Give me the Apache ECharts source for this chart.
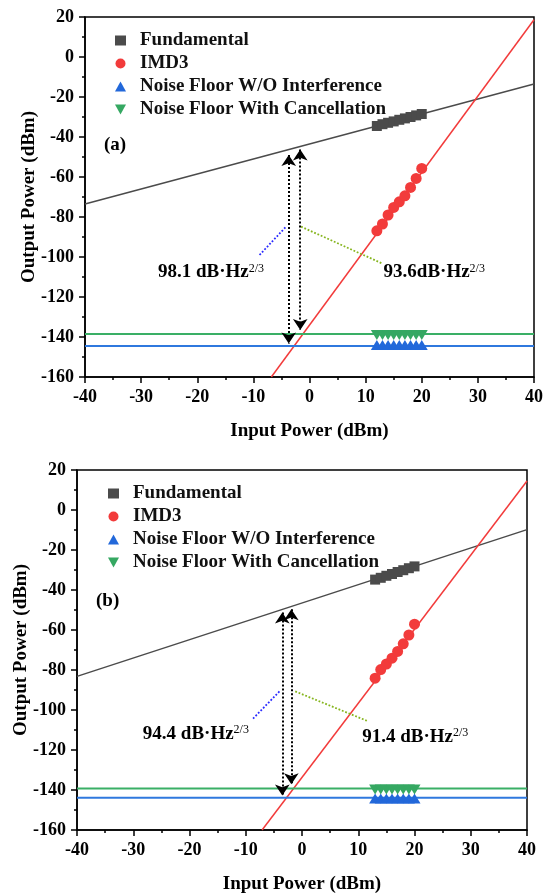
<!DOCTYPE html>
<html>
<head>
<meta charset="utf-8">
<title>Fundamental and IMD3 output power</title>
<script src="https://cdn.jsdelivr.net/npm/echarts@6/dist/echarts.min.js"></script>
<style>
  html, body { margin: 0; padding: 0; background: #fff; }
  #chart { width: 546px; height: 895px; }
</style>
</head>
<body>
<div id="chart"></div>
<script>
// axis ticks (both panels)
const xTicks = [-40, -30, -20, -10, 0, 10, 20, 30, 40];
const yTicks = [-160, -140, -120, -100, -80, -60, -40, -20, 0, 20];

// panel (a)
const fundXA = [12, 13, 14, 15, 16, 17, 18, 19, 20];
const fundYA = [-34.5, -33.6, -32.9, -32.2, -31.4, -30.7, -30.0, -29.2, -28.5];
const imdXA = [12, 13, 14, 15, 16, 17, 18, 19, 20];
const imdYA = [-86.9, -83.5, -79.0, -75.2, -72.4, -69.4, -65.2, -60.7, -55.7];
const noiseXA = [12, 13, 14, 15, 16, 17, 18, 19, 20];
const noiseYA = [-144.0, -144.0, -144.0, -144.0, -144.0, -144.0, -144.0, -144.0, -144.0];
const cancelYA = [-139.0, -139.0, -139.0, -139.0, -139.0, -139.0, -139.0, -139.0, -139.0];
const fundFitA = [[-40, -73.5], [40, -13.5]];
const imdFitA = [[-6.8, -160], [40, 18.6]];
const noiseLineA = [[-40, -144.5], [40, -144.5]];
const cancelLineA = [[-40, -138.5], [40, -138.5]];
const arrowXA = [-3.7, -1.65];
const arrowTopA = [-49.0, -46.2];
const arrowBotA = [-143.2, -136.5];
const gainTextA = ['98.1 dB·Hz', '93.6dB·Hz'];

// panel (b)
const fundXB = [13, 14, 15, 16, 17, 18, 19, 20];
const fundYB = [-34.8, -33.9, -32.9, -32.0, -31.0, -30.1, -29.1, -28.2];
const imdXB = [13, 14, 15, 16, 17, 18, 19, 20];
const imdYB = [-84.1, -79.8, -77.0, -74.1, -70.7, -66.9, -62.5, -57.1];
const noiseXB = [13, 14, 15, 16, 17, 18, 19, 20];
const noiseYB = [-144.2, -144.2, -144.2, -144.2, -144.2, -144.2, -144.2, -144.2];
const cancelYB = [-139.8, -139.8, -139.8, -139.8, -139.8, -139.8, -139.8, -139.8];
const fundFitB = [[-40, -83.2], [40, -9.8]];
const imdFitB = [[-7.1, -160], [40, 14.5]];
const noiseLineB = [[-40, -143.9], [40, -143.9]];
const cancelLineB = [[-40, -139.3], [40, -139.3]];
const arrowXB = [-3.5, -1.9];
const arrowTopB = [-51.3, -49.6];
const arrowBotB = [-142.8, -137.1];
const gainTextB = ['94.4 dB·Hz', '91.4 dB·Hz'];

const legendNames = ['Fundamental', 'IMD3', 'Noise Floor W/O Interference', 'Noise Floor With Cancellation'];

const FONT = "'Liberation Serif', 'Times New Roman', serif";
const downTri = 'path://M0,0L10,0L5,9Z';
const colors = { fund: '#4b4b4b', imd: '#f23b3b', noise: '#2268da', cancel: '#35a862' };

const zip = (xs, ys) => xs.map((x, i) => [x, ys[i]]);

// panel layout: grid box, annotation anchors (data coords), leader lines (data coords)
const panels = [
  {
    grid: { left: 85, top: 17, width: 450, height: 360 },
    tag: '(a)', tagPos: [104, 136],
    fundX: fundXA, fundY: fundYA, imdX: imdXA, imdY: imdYA,
    noiseX: noiseXA, noiseY: noiseYA, cancelY: cancelYA,
    fundFit: fundFitA, imdFit: imdFitA, noiseLine: noiseLineA, cancelLine: cancelLineA,
    arrowX: arrowXA, arrowTop: arrowTopA, arrowBot: arrowBotA, gainText: gainTextA,
    textAt: [[-27.0, -107.5], [13.2, -107.5]],
    leaders: [[[-8.9, -99.0], [-4.3, -85.2]], [[-1.5, -84.8], [12.9, -103.2]]],
    legendTop: 26, legendLeft: 110
  },
  {
    grid: { left: 77, top: 470, width: 450, height: 362 },
    tag: '(b)', tagPos: [96, 592],
    fundX: fundXB, fundY: fundYB, imdX: imdXB, imdY: imdYB,
    noiseX: noiseXB, noiseY: noiseYB, cancelY: cancelYB,
    fundFit: fundFitB, imdFit: imdFitB, noiseLine: noiseLineB, cancelLine: cancelLineB,
    arrowX: arrowXB, arrowTop: arrowTopB, arrowBot: arrowBotB, gainText: gainTextB,
    textAt: [[-28.3, -111.8], [10.7, -113.3]],
    leaders: [[[-8.7, -104.3], [-4.0, -90.7]], [[-1.2, -90.7], [11.8, -105.7]]],
    legendTop: 479, legendLeft: 103
  }
];

const axisText = { color: '#000', fontFamily: FONT, fontWeight: 'bold', fontSize: 18 };
const leaderColors = ['#2a2aff', '#86b51e'];

const grids = [], xAxes = [], yAxes = [], series = [], legends = [], graphics = [];

panels.forEach((p, i) => {
  grids.push(Object.assign({ show: true, borderColor: '#000', borderWidth: 1.5, backgroundColor: 'transparent' }, p.grid));

  xAxes.push({
    gridIndex: i, type: 'value',
    min: xTicks[0], max: xTicks[xTicks.length - 1], interval: xTicks[1] - xTicks[0],
    name: 'Input Power (dBm)', nameLocation: 'middle', nameGap: 45, nameMoveOverlap: false,
    nameTextStyle: { color: '#000', fontFamily: FONT, fontWeight: 'bold', fontSize: 19 },
    axisLine: { onZero: false, lineStyle: { color: '#000', width: 1.5 } },
    axisTick: { inside: false, length: 6, lineStyle: { color: '#000', width: 1.5 } },
    minorTick: { show: true, splitNumber: 2, length: 3, lineStyle: { color: '#000', width: 1.5 } },
    axisLabel: Object.assign({ margin: 11 }, axisText),
    splitLine: { show: false }
  });

  yAxes.push({
    gridIndex: i, type: 'value',
    min: yTicks[0], max: yTicks[yTicks.length - 1], interval: yTicks[1] - yTicks[0],
    name: 'Output Power (dBm)', nameLocation: 'middle', nameGap: 46, nameMoveOverlap: false,
    nameTextStyle: { color: '#000', fontFamily: FONT, fontWeight: 'bold', fontSize: 19 },
    axisLine: { onZero: false, lineStyle: { color: '#000', width: 1.5 } },
    axisTick: { inside: false, length: 6, lineStyle: { color: '#000', width: 1.5 } },
    minorTick: { show: true, splitNumber: 2, length: 3, lineStyle: { color: '#000', width: 1.5 } },
    axisLabel: Object.assign({ margin: 11 }, axisText),
    splitLine: { show: false }
  });

  const ax = { xAxisIndex: i, yAxisIndex: i };

  // fitted / reference lines
  series.push(Object.assign({
    type: 'line', data: p.fundFit, showSymbol: false, silent: true, z: 2,
    lineStyle: { color: colors.fund, width: 1.5 },
    markLine: {
      silent: true, animation: false,
      symbol: ['arrow', 'arrow'], symbolSize: 11,
      label: { show: false },
      lineStyle: { type: 'dotted', color: '#000', width: 2 },
      emphasis: { disabled: true },
      data: p.arrowX.map((x, k) => [{ coord: [x, p.arrowTop[k]] }, { coord: [x, p.arrowBot[k]] }])
    }
  }, ax));
  series.push(Object.assign({
    type: 'line', data: p.imdFit, showSymbol: false, silent: true, z: 2,
    lineStyle: { color: colors.imd, width: 1.5 },
    markLine: {
      silent: true, animation: false,
      symbol: ['none', 'none'],
      label: { show: false },
      emphasis: { disabled: true },
      lineStyle: { type: 'dotted', width: 1.8 },
      data: p.leaders.map((l, k) => [
        { coord: l[0], lineStyle: { color: leaderColors[k], type: 'dotted', width: 1.8 } },
        { coord: l[1] }
      ])
    }
  }, ax));
  series.push(Object.assign({
    type: 'line', data: p.noiseLine, showSymbol: false, silent: true, z: 2,
    lineStyle: { color: '#2f78de', width: 2 }
  }, ax));
  series.push(Object.assign({
    type: 'line', data: p.cancelLine, showSymbol: false, silent: true, z: 2,
    lineStyle: { color: '#3aaf66', width: 2 }
  }, ax));

  // measured points
  series.push(Object.assign({
    name: legendNames[0], type: 'scatter', symbol: 'rect', symbolSize: 10, z: 5,
    itemStyle: { color: colors.fund, opacity: 1 }, data: zip(p.fundX, p.fundY)
  }, ax));
  series.push(Object.assign({
    name: legendNames[1], type: 'scatter', symbol: 'circle', symbolSize: 11, z: 5,
    itemStyle: { color: colors.imd, opacity: 1 }, data: zip(p.imdX, p.imdY)
  }, ax));
  series.push(Object.assign({
    name: legendNames[2], type: 'scatter', symbol: 'triangle', symbolSize: [12, 10], z: 5,
    itemStyle: { color: colors.noise, opacity: 1 }, data: zip(p.noiseX, p.noiseY)
  }, ax));
  series.push(Object.assign({
    name: legendNames[3], type: 'scatter', symbol: downTri, symbolSize: [12, 10], z: 5,
    itemStyle: { color: colors.cancel, opacity: 1 }, data: zip(p.noiseX, p.cancelY)
  }, ax));

  legends.push({
    orient: 'vertical', left: p.legendLeft, top: p.legendTop,
    itemWidth: 11, itemHeight: 10, itemGap: 4,
    selectedMode: false,
    textStyle: { color: '#111', fontFamily: FONT, fontWeight: 'bold', fontSize: 19, padding: [0, 0, 0, 9] },
    data: [
      { name: legendNames[0], icon: 'rect' },
      { name: legendNames[1], icon: 'circle' },
      { name: legendNames[2], icon: 'triangle' },
      { name: legendNames[3], icon: downTri }
    ]
  });

  graphics.push({
    type: 'text', left: p.tagPos[0], top: p.tagPos[1],
    style: { text: p.tag, fill: '#000', font: 'bold 19px ' + FONT }
  });
});

const chart = echarts.init(document.getElementById('chart'), null, { renderer: 'canvas' });
chart.setOption({
  animation: false,
  backgroundColor: '#fff',
  grid: grids,
  xAxis: xAxes,
  yAxis: yAxes,
  legend: legends,
  graphic: graphics,
  series: series
});

// dynamic range annotations, anchored in data coordinates
panels.forEach((p, i) => {
  p.textAt.forEach((pt, k) => {
    const px = chart.convertToPixel({ gridIndex: i }, pt);
    graphics.push({
      type: 'text', x: px[0], y: px[1], z: 10,
      style: {
        text: '{m|' + p.gainText[k] + '}{s|2/3}',
        verticalAlign: 'middle',
        rich: {
          m: { fontFamily: FONT, fontWeight: 'bold', fontSize: 19, fill: '#000' },
          s: { fontFamily: FONT, fontSize: 12, fill: '#000', verticalAlign: 'top' }
        }
      }
    });
  });
});
chart.setOption({ graphic: graphics });
</script>
</body>
</html>
